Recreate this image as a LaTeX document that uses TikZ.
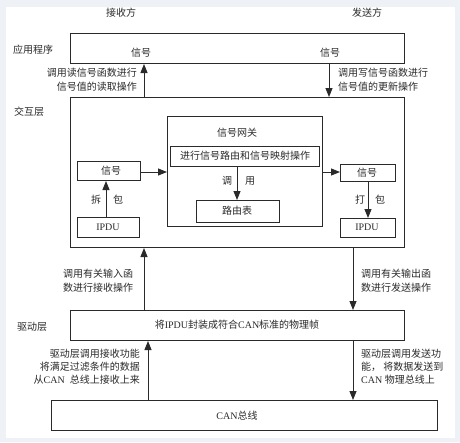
\documentclass[tikz,border=0pt]{standalone}
\usepackage{fontspec}
\setmainfont{Liberation Serif}
\newfontfamily\cjk{Noto Sans CJK SC}
\usetikzlibrary{arrows.meta}
\definecolor{frame}{HTML}{EEF1F5}
\definecolor{ink}{HTML}{2A2A2A}
\tikzset{
  box/.style={draw=ink, line width=1pt, rectangle, inner sep=0pt, anchor=north west},
  arr/.style={draw=ink, line width=0.9pt, -{Triangle[length=9pt,width=7pt]}},
  lbl/.style={font=\cjk\fontsize{10}{14}\selectfont, text=ink, inner sep=0pt},
}
\begin{document}
\begin{tikzpicture}[x=1pt,y=-1pt]
\fill[frame] (0,0) rectangle (460,442);
\fill[white] (6,7) rectangle (455,438);
\useasboundingbox (0,0) rectangle (460,442);

% headers
\node[lbl] (hr) at (121,13) {接收方};
\node[lbl] (hs) at (367,13) {发送方};

% layer labels
\node[lbl] (lapp) at (33,50) {应用程序};
\node[lbl] (lint) at (29,112) {交互层};
\node[lbl] (ldrv) at (32,327) {驱动层};

% boxes
\node[box, minimum width=334pt, minimum height=30pt] (app) at (70,33) {};
\node[box, minimum width=334pt, minimum height=150pt] (inter) at (70,97) {};
\node[box, minimum width=155pt, minimum height=110pt] (gw) at (167,116) {};
\node[box, minimum width=149pt, minimum height=20pt, lbl] (map) at (170,146) {};
\node[lbl] (maptxt) at (245,156) {进行信号路由和信号映射操作};
\node[box, minimum width=83pt, minimum height=22pt] (rt) at (196,200) {};
\node[lbl] (rttxt) at (237,211) {路由表};
\node[lbl] (gwtxt) at (237,133) {信号网关};

\node[box, minimum width=63pt, minimum height=19pt] (sigL) at (77,161) {};
\node[lbl] (sigLt) at (111,171) {信号};
\node[box, minimum width=62pt, minimum height=20pt] (ipduL) at (77,217) {};
\node[font=\fontsize{10}{12}\selectfont, text=ink, inner sep=0pt] (ipduLt) at (108,227) {IPDU};

\node[box, minimum width=55pt, minimum height=17pt] (sigR) at (340,164) {};
\node[lbl] (sigRt) at (367,172.5) {信号};
\node[box, minimum width=55pt, minimum height=19pt] (ipduR) at (340,218) {};
\node[font=\fontsize{10}{12}\selectfont, text=ink, inner sep=0pt] (ipduRt) at (367,227) {IPDU};

\node[box, minimum width=334pt, minimum height=30pt] (drv) at (70,310) {};
\node[text=ink, inner sep=0pt, font=\fontsize{10}{12}\selectfont] (drvt) at (237,325) {{\cjk 将}IPDU{\cjk 封装成符合}CAN{\cjk 标准的物理帧}};
\node[box, minimum width=386pt, minimum height=30pt] (can) at (51,400) {};
\node[text=ink, inner sep=0pt, font=\fontsize{10}{12}\selectfont] (cant) at (237,416) {CAN{\cjk 总线}};

% texts inside app
\node[lbl] (asL) at (141,53) {信号};
\node[lbl] (asR) at (330,53) {信号};

% x-coordinates
\coordinate (xa) at (144,0);
\coordinate (xb) at (329,0);
\coordinate (xc) at (353,0);
\coordinate (xd) at (148,0);
\coordinate (xg) at (237,0);
\coordinate (xe) at (106,0);
\coordinate (xf) at (368,0);
\coordinate (ya) at (0,172);

% arrows app <-> interaction
\draw[arr] (inter.north -| xa) -- (app.south -| xa);
\draw[arr] (app.south -| xb) -- (inter.north -| xb);
\node[lbl, align=right, anchor=east] (tL1) at (137,80) {调用读信号函数进行\\信号值的读取操作};
\node[lbl, align=left, anchor=west] (tR1) at (338,80) {调用写信号函数进行\\信号值的更新操作};

% inside interaction
\draw[arr] (sigL.east |- ya) -- (gw.west |- ya);
\draw[arr] (gw.east |- ya) -- (sigR.west |- ya);
\draw[arr] (map.south -| xg) -- (rt.north -| xg);
\node[lbl] (cy1) at (227,181) {调};
\node[lbl] (cy2) at (250,181) {用};
\draw[arr] (ipduL.north -| xe) -- (sigL.south -| xe);
\node[lbl] (cb1) at (96,200) {拆};
\node[lbl] (cb2) at (118,200) {包};
\draw[arr] (sigR.south -| xf) -- (ipduR.north -| xf);
\node[lbl] (db1) at (360,200) {打};
\node[lbl] (db2) at (380,200) {包};

% interaction <-> driver
\draw[arr] (drv.north -| xa) -- (inter.south -| xa);
\draw[arr] (inter.south -| xc) -- (drv.north -| xc);
\node[lbl, align=left, anchor=west] (tL2) at (63,281) {调用有关输入函\\数进行接收操作};
\node[lbl, align=left, anchor=west] (tR2) at (361,281) {调用有关输出函\\数进行发送操作};

% driver <-> CAN
\draw[arr] (can.north -| xd) -- (drv.south -| xd);
\draw[arr] (drv.south -| xc) -- (can.north -| xc);
\node[text=ink, inner sep=0pt, align=right, anchor=east, font=\fontsize{10}{13}\selectfont] (tL3) at (140,367)
  {{\cjk 驱动层调用接收功能}\\{\cjk 将满足过滤条件的数据}\\{\cjk 从}CAN\ \ {\cjk 总线上接收上来}};
\node[text=ink, inner sep=0pt, align=left, anchor=west, font=\fontsize{10}{13}\selectfont] (tR3) at (361,367)
  {{\cjk 驱动层调用发送功}\\{\cjk 能，\ 将数据发送到}\\CAN {\cjk 物理总线上}};
\end{tikzpicture}
\end{document}
